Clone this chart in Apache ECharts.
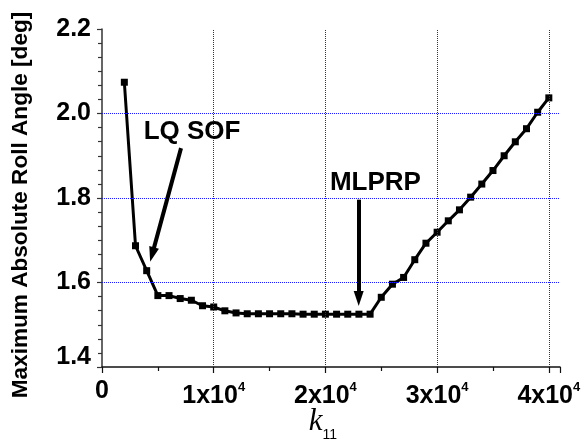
<!DOCTYPE html>
<html>
<head>
<meta charset="utf-8">
<script src="https://cdn.jsdelivr.net/npm/echarts@6/dist/echarts.min.js"></script>
<style>
html,body{margin:0;padding:0;background:#fff;}
#c{width:583px;height:439px;}
</style>
</head>
<body>
<div id="c"></div>
<script>
// ---- data ----
const k11 = [2000,3000,4000,5000,6000,7000,8000,9000,10000,11000,12000,13000,14000,15000,16000,17000,18000,19000,20000,21000,22000,23000,24000,25000,26000,27000,28000,29000,30000,31000,32000,33000,34000,35000,36000,37000,38000,39000,40000];
const rollAngle = [2.074,1.687,1.628,1.569,1.569,1.562,1.558,1.545,1.542,1.533,1.528,1.526,1.526,1.526,1.526,1.526,1.525,1.525,1.525,1.525,1.525,1.525,1.525,1.565,1.596,1.612,1.654,1.693,1.719,1.746,1.772,1.802,1.833,1.865,1.900,1.933,1.964,2.003,2.037];

const xTickValues = [0,10000,20000,30000,40000];
const xTickLabels = ['0','1x10','2x10','3x10','4x10'];
const xTickExp = ['','4','4','4','4'];
const yTickValues = [1.4,1.6,1.8,2.0,2.2];
const yTickLabels = ['1.4','1.6','1.8','2.0','2.2'];
const yGridValues = [1.6,1.8,2.0];
const xGridValues = [10000,20000,30000,40000];

// annotations (data coordinates)
const annotLabels = ['LQ SOF','MLPRP'];
const annotLabelPos = [[8060,1.956],[24474,1.8355]];
const annotArrowFrom = [[7074,1.918],[22978,1.796]];
const annotArrowTo = [[4487,1.666],[22978,1.562]];

const chart = echarts.init(document.getElementById('c'), null, {renderer:'canvas'});

const gridLineStyle = {color:'#1a1aff', type:[1,1], width:1};

const option = {
  animation:false,
  backgroundColor:'#fff',
  grid:{left:102,right:23,top:29,bottom:72,containLabel:false,outerBoundsMode:'none'},
  xAxis:{
    type:'value', min:0, max:41000, interval:10000,
    name:'{k|k}{sub|11}',
    nameLocation:'middle', nameGap:39, nameMoveOverlap:false,
    nameTextStyle:{
      padding:[0,16,0,0],
      rich:{
        k:{fontFamily:'Liberation Serif',fontStyle:'italic',fontSize:31,lineHeight:34,verticalAlign:'top',color:'#000'},
        sub:{fontFamily:'Liberation Sans',fontSize:14,lineHeight:14,padding:[22,0,0,0],verticalAlign:'top',color:'#000'}
      }
    },
    axisLine:{show:true,onZero:false,lineStyle:{color:'#111',width:1.5}},
    axisTick:{show:true,inside:false,length:6,lineStyle:{color:'#111',width:1.2}},
    minorTick:{show:true,splitNumber:2,length:4,lineStyle:{color:'#111',width:1.2}},
    splitLine:{show:false},
    axisLabel:{
      margin:14,
      showMaxLabel:false,
      formatter:function(v){
        const i = xTickValues.indexOf(v);
        if(i<0) return '';
        if(!xTickExp[i]) return '{z|'+xTickLabels[i]+'}';
        return '{b|'+xTickLabels[i]+'}{sup|'+xTickExp[i]+'}';
      },
      rich:{
        b:{fontFamily:'Liberation Sans',fontWeight:'bold',fontSize:25,lineHeight:30,color:'#000'},
        z:{fontFamily:'Liberation Sans',fontWeight:'bold',fontSize:25,lineHeight:20,color:'#000'},
        sup:{fontFamily:'Liberation Sans',fontWeight:'bold',fontSize:13,lineHeight:14,verticalAlign:'top',color:'#000'}
      }
    }
  },
  yAxis:{
    type:'value', min:1.4, max:2.2, interval:0.2,
    name:'Maximum Absolute Roll Angle [deg]',
    nameLocation:'middle', nameGap:70,
    nameTextStyle:{fontFamily:'Liberation Sans',fontWeight:'bold',fontSize:22.6,color:'#000',padding:[0,14,0,0]},
    axisLine:{show:true,onZero:false,lineStyle:{color:'#333',width:1.5}},
    axisTick:{show:true,inside:false,length:5,lineStyle:{color:'#333',width:1.2}},
    minorTick:{show:true,splitNumber:6,length:4,lineStyle:{color:'#333',width:1.2}},
    splitLine:{show:false},
    axisLabel:{
      margin:11,
      formatter:function(v){
        let i = -1;
        for(let j=0;j<yTickValues.length;j++){ if(Math.abs(yTickValues[j]-v)<1e-6) i=j; }
        if(i<0) return '';
        if(i===0) return '{low|'+yTickLabels[i]+'}';
        return '{n|'+yTickLabels[i]+'}';
      },
      rich:{
        n:{fontFamily:'Liberation Sans',fontWeight:'bold',fontSize:25,color:'#000'},
        low:{fontFamily:'Liberation Sans',fontWeight:'bold',fontSize:25,padding:[0,0,20,0],color:'#000'}
      }
    }
  },
  series:[
    {
      type:'line', data:[], z:1, silent:true,
      markLine:{
        silent:true, symbol:['none','none'], animation:false,
        label:{show:false},
        lineStyle:gridLineStyle,
        data: yGridValues.map(v=>({yAxis:v})).concat(xGridValues.map(v=>({xAxis:v})))
      }
    },
    {
      type:'line', z:3,
      data:k11.map((x,i)=>[x,rollAngle[i]]),
      symbol:'rect', symbolSize:7,
      itemStyle:{color:'#000'},
      lineStyle:{color:'#000',width:3},
      markLine:{
        silent:true, animation:false,
        symbol:['none','triangle'], symbolSize:[10,15],
        label:{show:false},
        lineStyle:{color:'#000',width:4,type:'solid'},
        data: annotArrowFrom.map((p,i)=>[{coord:p},{coord:annotArrowTo[i]}])
      },
      markPoint:{
        silent:true, animation:false,
        symbol:'circle', symbolSize:1,
        itemStyle:{color:'rgba(0,0,0,0)'},
        label:{show:true,position:'inside',fontFamily:'Liberation Sans',fontWeight:'bold',fontSize:26,color:'#000'},
        data: annotLabels.map((t,i)=>({coord:annotLabelPos[i],value:t,label:{formatter:t}}))
      }
    }
  ]
};
chart.setOption(option);
</script>
</body>
</html>
